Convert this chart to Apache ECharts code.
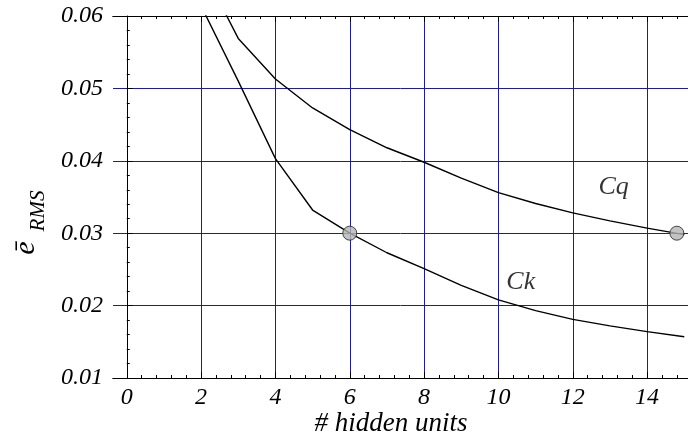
<!DOCTYPE html>
<html>
<head>
<meta charset="utf-8">
<script src="https://cdn.jsdelivr.net/npm/echarts@6/dist/echarts.min.js"></script>
<style>html,body{margin:0;padding:0;background:#fff}#c{width:688px;height:438px}</style>
</head>
<body>
<div id="c"></div>
<script>
// ---- data ----
const ckX = [2, 3, 4, 5, 6, 7, 8, 9, 10, 11, 12, 13, 14, 15];
const ckY = [0.0614, 0.0510, 0.0403, 0.0332, 0.0300, 0.0273, 0.0251, 0.0228, 0.0208, 0.0193, 0.0181, 0.0172, 0.0164, 0.0157];
const cqX = [2, 3, 4, 5, 6, 7, 8, 9, 10, 11, 12, 13, 14, 15];
const cqY = [0.0669, 0.0569, 0.0513, 0.0473, 0.0443, 0.0418, 0.0398, 0.0376, 0.0356, 0.0341, 0.0328, 0.0317, 0.0307, 0.0298];
const markX = [6, 14.8];
const markY = [0.03, 0.03];
const labelText = ['Cq', 'Ck'];
const labelX = [13.1, 10.6];
const labelY = [0.0364, 0.0233];
const xMajorTicks = [0, 2, 4, 6, 8, 10, 12, 14];
const xMinorStep = 0.4;
const yTicks = [0.01, 0.02, 0.03, 0.04, 0.05, 0.06];
const xTitle = '# hidden units';

// ---- chart ----
const XMIN = -0.37, XMAX = 15.1;
const xMinorTicks = [];
for (let i = 0; i * xMinorStep <= XMAX; i++) {
  const v = +(i * xMinorStep).toFixed(2);
  if (xMajorTicks.indexOf(v) < 0) xMinorTicks.push(v);
}
const FONT = '"Liberation Serif", "DejaVu Serif", serif';
const GRID = '#1e1e8c';
const labelStyle = { fontFamily: FONT, fontStyle: 'italic', fontSize: 24, color: '#000' };

function xAx(pos, ticks, len, withLabel, withSplit) {
  return {
    type: 'value', position: pos, min: XMIN, max: XMAX,
    axisLine: { show: true, onZero: false, lineStyle: { color: '#000', width: 1 } },
    axisTick: { show: true, inside: true, length: len, customValues: ticks, lineStyle: { color: '#000', width: 1 } },
    axisLabel: withLabel ? Object.assign({ show: true, customValues: ticks, margin: 8 }, labelStyle) : { show: false },
    splitLine: { show: withSplit, lineStyle: { color: GRID, width: 1 } }
  };
}

const chart = echarts.init(document.getElementById('c'), null, { renderer: 'canvas' });
chart.setOption({
  animation: false,
  backgroundColor: '#fff',
  grid: { left: 113, top: 16, right: 0, bottom: 60, containLabel: false },
  xAxis: [
    xAx('bottom', xMajorTicks, 6, true, true),
    xAx('bottom', xMinorTicks, 3, false, false),
    xAx('top', xMajorTicks, 6, false, false),
    xAx('top', xMinorTicks, 3, false, false)
  ],
  yAxis: [{
    type: 'value', position: 'left', min: yTicks[0], max: yTicks[yTicks.length - 1], interval: 0.01,
    axisLine: { show: true, lineStyle: { color: '#000', width: 1 } },
    axisTick: { show: true, inside: true, length: 6, lineStyle: { color: '#000' } },
    minorTick: { show: true, splitNumber: 5, length: 3, lineStyle: { color: '#000' } },
    axisLabel: Object.assign({ margin: 10, formatter: v => v.toFixed(2) }, labelStyle),
    splitLine: { show: true, lineStyle: { color: GRID, width: 1 } }
  }],
  series: [
    {
      type: 'line', xAxisIndex: 0, yAxisIndex: 0, showSymbol: false, symbol: 'none', silent: true,
      lineStyle: { color: '#000', width: 1.4 },
      data: ckX.map((x, i) => [x, ckY[i]])
    },
    {
      type: 'line', xAxisIndex: 0, yAxisIndex: 0, showSymbol: false, symbol: 'none', silent: true,
      lineStyle: { color: '#000', width: 1.4 },
      data: cqX.map((x, i) => [x, cqY[i]])
    },
    {
      type: 'scatter', xAxisIndex: 0, yAxisIndex: 0, symbol: 'circle', symbolSize: 14, silent: true,
      itemStyle: { color: '#b4b4b4', borderColor: '#222', borderWidth: 1 },
      data: markX.map((x, i) => [x, markY[i]]), z: 5
    },
    {
      type: 'scatter', xAxisIndex: 0, yAxisIndex: 0, symbolSize: 0, silent: true,
      label: Object.assign({ show: true, position: 'inside', formatter: '{b}' }, labelStyle, { fontSize: 26 }),
      data: labelText.map((t, i) => ({ name: t, value: [labelX[i], labelY[i]] }))
    }
  ],
  graphic: [
    { type: 'text', x: 391, y: 424, silent: true,
      style: { text: xTitle, font: 'italic 27px ' + FONT, fill: '#000', textAlign: 'center', textVerticalAlign: 'middle' } },
    { type: 'text', x: 41, y: 248, rotation: Math.PI / 2, silent: true,
      style: { text: 'ē', font: 'italic 30px ' + FONT, fill: '#000', textAlign: 'center', textVerticalAlign: 'bottom' } },
    { type: 'text', x: 49, y: 211, rotation: Math.PI / 2, silent: true,
      style: { text: 'RMS', font: 'italic 21px ' + FONT, fill: '#000', textAlign: 'center', textVerticalAlign: 'bottom' } }
  ]
});
</script>
</body>
</html>
